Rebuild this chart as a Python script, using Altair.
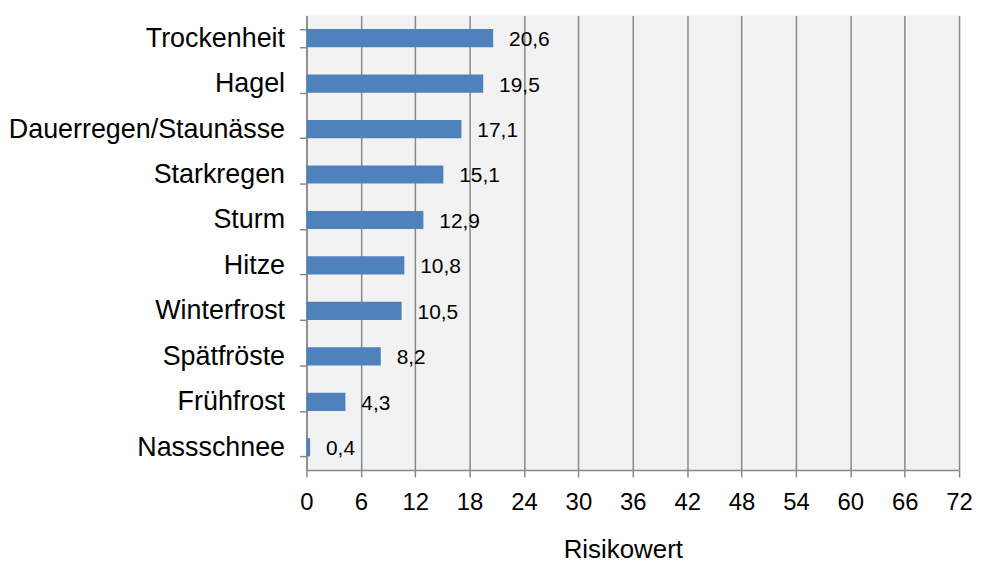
import altair as alt
import pandas as pd

categories = ["Trockenheit", "Hagel", "Dauerregen/Staunässe", "Starkregen", "Sturm",
              "Hitze", "Winterfrost", "Spätfröste", "Frühfrost", "Nassschnee"]
values = [20.6, 19.5, 17.1, 15.1, 12.9, 10.8, 10.5, 8.2, 4.3, 0.4]
x_ticks = list(range(0, 73, 6))

df = pd.DataFrame({
    "Kategorie": categories,
    "Wert": values,
    "Label": [f"{v:.1f}".replace(".", ",") for v in values],
})

FONT = "Liberation Sans"
GRID = "#898989"

x_enc = alt.X(
    "Wert:Q",
    scale=alt.Scale(domain=[0, 72], nice=False, zero=True),
    axis=alt.Axis(
        values=x_ticks, title="Risikowert", grid=True, gridColor=GRID, gridWidth=1.5,
        domainColor=GRID, domainWidth=1.5, tickColor=GRID, tickWidth=1.5, tickSize=7,
        labelFont=FONT, labelFontSize=24, labelColor="black", labelPadding=14,
        labelFlush=False,
        titleFont=FONT, titleFontSize=26, titleFontWeight="normal", titleColor="black",
        titleX=318, titleY=88, titleAlign="center", titleBaseline="alphabetic",
    ),
)
y_enc = alt.Y(
    "Kategorie:N",
    sort=categories,
    scale=alt.Scale(paddingInner=0.6, paddingOuter=0.3),
    axis=alt.Axis(
        title=None, tickBand="extent", grid=False,
        domainColor=GRID, domainWidth=1.5, tickColor=GRID, tickWidth=1.5, tickSize=7,
        labelFont=FONT, labelFontSize=27, labelColor="black", labelPadding=15,
        labelAlign="right", labelBaseline="middle", labelLimit=400,
    ),
)

bars = alt.Chart(df).mark_bar(color="#4f81bd").encode(x=x_enc, y=y_enc)
text = alt.Chart(df).mark_text(
    align="left", baseline="middle", dx=16, dy=2, fontSize=21, font=FONT, color="black"
).encode(
    x=alt.X("Wert:Q"),
    y=alt.Y("Kategorie:N", sort=categories),
    text="Label:N",
)

chart = (bars + text).properties(
    width=656, height=457,
    autosize=alt.AutoSizeParams(type="none"),
    padding={"left": 300, "top": 6, "right": 14, "bottom": 92},
    background="white",
).configure_view(fill="#f2f2f2", stroke=None)

chart.save("out.html", embed_options={"renderer": "svg", "actions": False})
